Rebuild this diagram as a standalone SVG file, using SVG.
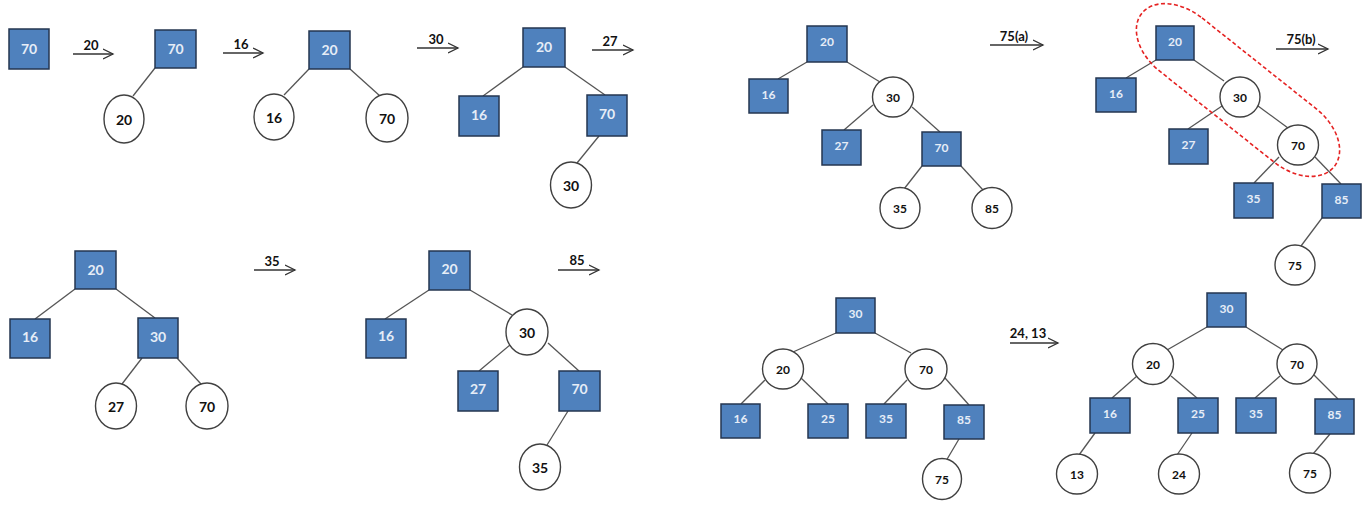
<svg xmlns="http://www.w3.org/2000/svg" width="1369" height="509" viewBox="0 0 1369 509">
<defs>
<marker id="ah" markerUnits="userSpaceOnUse" markerWidth="12" markerHeight="12" refX="10" refY="5" orient="auto" viewBox="0 0 12 10">
<path d="M0,0 L10,5 L0,10" fill="none" stroke="#333" stroke-width="1.3"/>
</marker>
<style>
.sq{fill:#4F81BD;stroke:#243650;stroke-width:1.5}
.ci{fill:#fff;stroke:#404040;stroke-width:1.4}
.t{font-family:Lato,"Liberation Sans",sans-serif;font-weight:bold;text-anchor:middle;dominant-baseline:central}
.L{font-size:14px}
.R{font-size:12px}
.sqt{fill:#E6EDF7}
.cit{fill:#111}
.ln{stroke:#555;stroke-width:1.3;fill:none}
.ar{stroke:#333;stroke-width:1.3;fill:none;marker-end:url(#ah)}
.al{font-family:Lato,"Liberation Sans",sans-serif;font-weight:bold;font-size:13px;text-anchor:middle;fill:#111}
.cap{fill:none;stroke:#E52222;stroke-width:1.6;stroke-dasharray:4 2.5}
</style>
</defs>
<rect width="1369" height="509" fill="#fff"/>
<g id="connectors">
<line class="ln" x1="155" y1="68" x2="133" y2="96"/>
<line class="ln" x1="309" y1="69" x2="284" y2="95"/>
<line class="ln" x1="350" y1="69" x2="380" y2="96"/>
<line class="ln" x1="523" y1="67" x2="483" y2="96"/>
<line class="ln" x1="565" y1="67" x2="605" y2="95"/>
<line class="ln" x1="599" y1="136" x2="577" y2="163"/>
<line class="ln" x1="75" y1="289" x2="35" y2="319"/>
<line class="ln" x1="116" y1="289" x2="155" y2="318"/>
<line class="ln" x1="142" y1="358" x2="122" y2="384"/>
<line class="ln" x1="177" y1="358" x2="201" y2="384"/>
<line class="ln" x1="429" y1="290" x2="385" y2="319"/>
<line class="ln" x1="470" y1="290" x2="512" y2="315"/>
<line class="ln" x1="510" y1="345" x2="479" y2="371"/>
<line class="ln" x1="548" y1="343" x2="579" y2="371"/>
<line class="ln" x1="568" y1="411" x2="547" y2="445"/>
<line class="ln" x1="807" y1="62" x2="778" y2="79"/>
<line class="ln" x1="847" y1="62" x2="880" y2="82"/>
<line class="ln" x1="873" y1="105" x2="844" y2="130"/>
<line class="ln" x1="912" y1="107" x2="940" y2="132"/>
<line class="ln" x1="922" y1="166" x2="904" y2="189"/>
<line class="ln" x1="961" y1="166" x2="983" y2="190"/>
<line class="ln" x1="1156" y1="60" x2="1126" y2="78"/>
<line class="ln" x1="1194" y1="60" x2="1224" y2="81"/>
<line class="ln" x1="1222" y1="106" x2="1188" y2="129"/>
<line class="ln" x1="1258" y1="106" x2="1288" y2="128"/>
<line class="ln" x1="1279" y1="157" x2="1254" y2="183"/>
<line class="ln" x1="1315" y1="157" x2="1341" y2="184"/>
<line class="ln" x1="1322" y1="218" x2="1301" y2="246"/>
<line class="ln" x1="836" y1="333" x2="793" y2="352"/>
<line class="ln" x1="875" y1="333" x2="911" y2="353"/>
<line class="ln" x1="765" y1="380" x2="741" y2="404"/>
<line class="ln" x1="801" y1="378" x2="828" y2="404"/>
<line class="ln" x1="907" y1="380" x2="884" y2="404"/>
<line class="ln" x1="945" y1="378" x2="969" y2="405"/>
<line class="ln" x1="959" y1="439" x2="946" y2="461"/>
<line class="ln" x1="1207" y1="327" x2="1167" y2="350"/>
<line class="ln" x1="1246" y1="327" x2="1283" y2="350"/>
<line class="ln" x1="1137" y1="376" x2="1112" y2="398"/>
<line class="ln" x1="1171" y1="376" x2="1197" y2="398"/>
<line class="ln" x1="1280" y1="376" x2="1255" y2="398"/>
<line class="ln" x1="1314" y1="375" x2="1338" y2="399"/>
<line class="ln" x1="1095" y1="433" x2="1079" y2="455"/>
<line class="ln" x1="1192" y1="433" x2="1177" y2="455"/>
<line class="ln" x1="1330" y1="434" x2="1313" y2="454"/>
<line class="ar" x1="73" y1="54" x2="113" y2="54"/>
<line class="ar" x1="223" y1="53" x2="263" y2="53"/>
<line class="ar" x1="417" y1="48" x2="458" y2="48"/>
<line class="ar" x1="592" y1="50" x2="633" y2="50"/>
<line class="ar" x1="990" y1="45" x2="1043" y2="45"/>
<line class="ar" x1="1276" y1="49" x2="1328" y2="49"/>
<line class="ar" x1="254" y1="270" x2="295" y2="270"/>
<line class="ar" x1="558" y1="270" x2="599" y2="270"/>
<line class="ar" x1="1010" y1="343" x2="1058" y2="343"/>
<text class="al" x="91" y="50">20</text>
<text class="al" x="241" y="49">16</text>
<text class="al" x="436" y="44">30</text>
<text class="al" x="610" y="46">27</text>
<text class="al" x="1014" y="41">75(a)</text>
<text class="al" x="1301" y="44">75(b)</text>
<text class="al" x="272" y="266">35</text>
<text class="al" x="577" y="265">85</text>
<text class="al" x="1028" y="338">24, 13</text>
</g>
<!-- tree 1 -->
<g id="t1-70"><rect class="sq" x="9" y="29" width="40" height="40"/><text class="t L sqt" x="29" y="48">70</text></g>
<!-- tree 2 -->
<g id="t2-70"><rect class="sq" x="155" y="30" width="41" height="38"/><text class="t L sqt" x="175.5" y="48">70</text></g>
<g id="t2-20"><ellipse class="ci" cx="124" cy="119" rx="20" ry="24"/><text class="t L cit" x="124" y="119">20</text></g>
<!-- tree 3 -->
<g id="t3-20"><rect class="sq" x="309" y="31" width="41" height="38"/><text class="t L sqt" x="329.5" y="49">20</text></g>
<g id="t3-16"><ellipse class="ci" cx="274" cy="117" rx="20" ry="23"/><text class="t L cit" x="274" y="117">16</text></g>
<g id="t3-70"><ellipse class="ci" cx="387" cy="118" rx="21" ry="24"/><text class="t L cit" x="387" y="118">70</text></g>
<!-- tree 4 -->
<g id="t4-20"><rect class="sq" x="523" y="28" width="42" height="39"/><text class="t L sqt" x="544" y="46">20</text></g>
<g id="t4-16"><rect class="sq" x="459" y="96" width="40" height="40"/><text class="t L sqt" x="479" y="114">16</text></g>
<g id="t4-70"><rect class="sq" x="587" y="95" width="40" height="41"/><text class="t L sqt" x="607" y="113">70</text></g>
<g id="t4-30"><ellipse class="ci" cx="571" cy="185" rx="20.5" ry="23"/><text class="t L cit" x="571" y="185">30</text></g>
<!-- tree 5 -->
<g id="t5-20"><rect class="sq" x="75" y="251" width="41" height="38"/><text class="t L sqt" x="95.5" y="269">20</text></g>
<g id="t5-16"><rect class="sq" x="10" y="319" width="40" height="39"/><text class="t L sqt" x="30" y="336">16</text></g>
<g id="t5-30"><rect class="sq" x="138" y="318" width="40" height="40"/><text class="t L sqt" x="158" y="336">30</text></g>
<g id="t5-27"><ellipse class="ci" cx="116" cy="406" rx="20.5" ry="23"/><text class="t L cit" x="116" y="406">27</text></g>
<g id="t5-70"><ellipse class="ci" cx="207" cy="406" rx="21" ry="23"/><text class="t L cit" x="207" y="406">70</text></g>
<!-- tree 6 -->
<g id="t6-20"><rect class="sq" x="429" y="251" width="41" height="39"/><text class="t L sqt" x="449.5" y="268">20</text></g>
<g id="t6-16"><rect class="sq" x="366" y="319" width="40" height="39"/><text class="t L sqt" x="386" y="335">16</text></g>
<g id="t6-30"><ellipse class="ci" cx="527" cy="332" rx="21" ry="23"/><text class="t L cit" x="527" y="332">30</text></g>
<g id="t6-27"><rect class="sq" x="458" y="371" width="40" height="40"/><text class="t L sqt" x="478" y="388">27</text></g>
<g id="t6-70"><rect class="sq" x="559" y="371" width="41" height="40"/><text class="t L sqt" x="579.5" y="388">70</text></g>
<g id="t6-35"><ellipse class="ci" cx="540" cy="467" rx="20.5" ry="23"/><text class="t L cit" x="540" y="467">35</text></g>
<!-- tree 7 -->
<g id="t7-20"><rect class="sq" x="807" y="26" width="40" height="36"/><text class="t R sqt" x="827" y="41">20</text></g>
<g id="t7-16"><rect class="sq" x="749" y="79" width="39" height="34"/><text class="t R sqt" x="768.5" y="94">16</text></g>
<g id="t7-30"><ellipse class="ci" cx="893" cy="97" rx="20.5" ry="20"/><text class="t R cit" x="893" y="97">30</text></g>
<g id="t7-27"><rect class="sq" x="822" y="130" width="39" height="35"/><text class="t R sqt" x="841.5" y="145">27</text></g>
<g id="t7-70"><rect class="sq" x="922" y="132" width="39" height="34"/><text class="t R sqt" x="941.5" y="147">70</text></g>
<g id="t7-35"><ellipse class="ci" cx="900" cy="208" rx="20" ry="20.5"/><text class="t R cit" x="900" y="208">35</text></g>
<g id="t7-85"><ellipse class="ci" cx="992" cy="208" rx="20" ry="20.5"/><text class="t R cit" x="992" y="208">85</text></g>
<!-- tree 8 -->
<g id="t8-20"><rect class="sq" x="1156" y="26" width="38" height="34"/><text class="t R sqt" x="1175" y="41">20</text></g>
<g id="t8-16"><rect class="sq" x="1096" y="78" width="40" height="34"/><text class="t R sqt" x="1116" y="93">16</text></g>
<g id="t8-30"><ellipse class="ci" cx="1240" cy="97" rx="20" ry="20"/><text class="t R cit" x="1240" y="97">30</text></g>
<g id="t8-27"><rect class="sq" x="1169" y="129" width="39" height="35"/><text class="t R sqt" x="1188.5" y="144">27</text></g>
<g id="t8-70"><ellipse class="ci" cx="1298" cy="145" rx="20.5" ry="20"/><text class="t R cit" x="1298" y="145">70</text></g>
<g id="t8-35"><rect class="sq" x="1234" y="183" width="39" height="35"/><text class="t R sqt" x="1253.5" y="198">35</text></g>
<g id="t8-85"><rect class="sq" x="1322" y="184" width="39" height="34"/><text class="t R sqt" x="1341.5" y="199">85</text></g>
<g id="t8-75"><ellipse class="ci" cx="1295" cy="265" rx="20" ry="20"/><text class="t R cit" x="1295" y="265">75</text></g>
<g id="t8-highlight"><rect class="cap" x="-123" y="-34" width="246" height="68" rx="50" ry="34" transform="translate(1238 90) rotate(38.5)"/></g>
<!-- tree 9 -->
<g id="t9-30"><rect class="sq" x="836" y="298" width="39" height="35"/><text class="t R sqt" x="855.5" y="313">30</text></g>
<g id="t9-20"><ellipse class="ci" cx="783" cy="369" rx="20.5" ry="20"/><text class="t R cit" x="783" y="369">20</text></g>
<g id="t9-70"><ellipse class="ci" cx="926" cy="369" rx="21" ry="20"/><text class="t R cit" x="926" y="369">70</text></g>
<g id="t9-16"><rect class="sq" x="721" y="404" width="39" height="34"/><text class="t R sqt" x="740.5" y="418">16</text></g>
<g id="t9-25"><rect class="sq" x="808" y="404" width="40" height="34"/><text class="t R sqt" x="828" y="418">25</text></g>
<g id="t9-35"><rect class="sq" x="866" y="404" width="40" height="34"/><text class="t R sqt" x="886" y="418">35</text></g>
<g id="t9-85"><rect class="sq" x="944" y="405" width="40" height="34"/><text class="t R sqt" x="964" y="419">85</text></g>
<g id="t9-75"><ellipse class="ci" cx="942" cy="479" rx="19.5" ry="20.5"/><text class="t R cit" x="942" y="479">75</text></g>
<!-- tree 10 -->
<g id="t10-30"><rect class="sq" x="1207" y="293" width="39" height="34"/><text class="t R sqt" x="1226.5" y="308">30</text></g>
<g id="t10-20"><ellipse class="ci" cx="1153" cy="364" rx="20.5" ry="20.5"/><text class="t R cit" x="1153" y="364">20</text></g>
<g id="t10-70"><ellipse class="ci" cx="1297" cy="364" rx="20" ry="20"/><text class="t R cit" x="1297" y="364">70</text></g>
<g id="t10-16"><rect class="sq" x="1090" y="398" width="40" height="35"/><text class="t R sqt" x="1110" y="413">16</text></g>
<g id="t10-25"><rect class="sq" x="1178" y="398" width="40" height="35"/><text class="t R sqt" x="1198" y="413">25</text></g>
<g id="t10-35"><rect class="sq" x="1236" y="398" width="40" height="35"/><text class="t R sqt" x="1256" y="413">35</text></g>
<g id="t10-85"><rect class="sq" x="1315" y="399" width="39" height="35"/><text class="t R sqt" x="1334.5" y="414">85</text></g>
<g id="t10-13"><ellipse class="ci" cx="1077" cy="474" rx="20.5" ry="20"/><text class="t R cit" x="1077" y="474">13</text></g>
<g id="t10-24"><ellipse class="ci" cx="1179" cy="474" rx="20.5" ry="20"/><text class="t R cit" x="1179" y="474">24</text></g>
<g id="t10-75"><ellipse class="ci" cx="1310" cy="473" rx="20.5" ry="20"/><text class="t R cit" x="1310" y="473">75</text></g>
</svg>
